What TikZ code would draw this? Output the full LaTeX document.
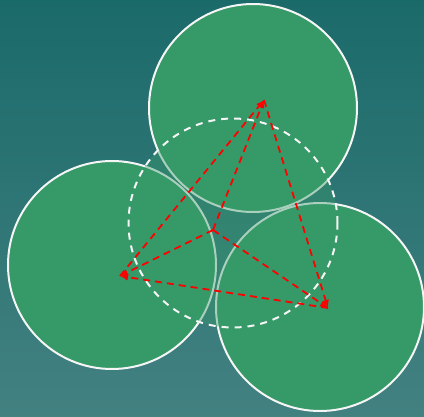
\documentclass[tikz,border=0pt]{standalone}
\usetikzlibrary{arrows.meta}
\definecolor{bgtop}{HTML}{1B6A6A}
\definecolor{bgbot}{HTML}{438181}
\definecolor{disk}{HTML}{369968}
\tikzset{
  disk/.style={fill=disk, draw=white!92!gray, line width=2pt},
  hull/.style={fill=disk, fill opacity=0.4, draw=white!92!gray, line width=2pt, dash pattern=on 7pt off 6pt},
  vec/.style={draw=red, line width=1.8pt, dash pattern=on 7pt off 5pt, -{Latex[length=8pt,width=7pt]}}
}
\begin{document}
\begin{tikzpicture}[x=1pt,y=-1pt]
\shade[top color=bgtop, bottom color=bgbot] (0,0) rectangle (424,416);
\useasboundingbox (0,0) rectangle (424,416);
\node[disk, circle, minimum size=208pt, inner sep=0pt] (cl) at (112,265) {};
\node[disk, circle, minimum size=208pt, inner sep=0pt] (ct) at (253,108) {};
\node[disk, circle, minimum size=208pt, inner sep=0pt] (cr) at (320,307) {};
\node[hull, circle, minimum size=209pt, inner sep=0pt] (ch) at (233,223) {};
\coordinate (T) at (264,100);
\coordinate (L) at (120,276);
\coordinate (R) at (328,308);
\coordinate (C) at (213,230);
\draw[vec] (C) -- (T);
\draw[vec] (C) -- (L);
\draw[vec] (C) -- (R);
\draw[vec] (L) -- (T);
\draw[vec] (T) -- (R);
\draw[vec] (R) -- (L);
\end{tikzpicture}
\end{document}
